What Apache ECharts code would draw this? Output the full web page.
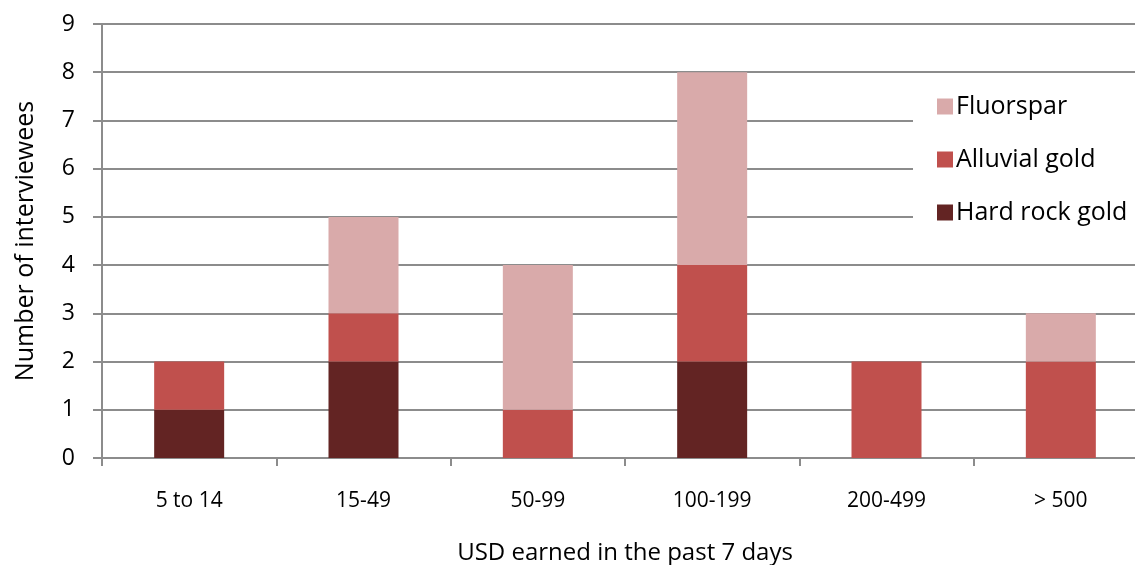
<!DOCTYPE html>
<html><head><meta charset="utf-8">
<script src="https://cdn.jsdelivr.net/npm/echarts@6/dist/echarts.min.js"></script>
<style>html,body{margin:0;padding:0;background:#fff}#c{width:1135px;height:565px}</style>
</head><body><div id="c"></div>
<script>
const categories = ['5 to 14','15-49','50-99','100-199','200-499','> 500'];
const hardRockGold = [1,2,0,2,0,0];
const alluvialGold = [1,1,1,2,2,2];
const fluorspar = [0,2,3,4,0,1];
const yTicks = [0,1,2,3,4,5,6,7,8,9];

const font = '"Open Sans", "Noto Sans", sans-serif';
const chart = echarts.init(document.getElementById('c'), null, {renderer:'canvas'});
const grey = '#8c8c8c';
chart.setOption({
  animation:false,
  backgroundColor:'#fff',
  textStyle:{fontFamily:font},
  grid:{left:102, top:24, width:1046, height:434, containLabel:false, outerBoundsMode:'none'},
  legend:{
    data:['Fluorspar','Alluvial gold','Hard rock gold'],
    orient:'vertical', left:913, top:84,
    itemWidth:16, itemHeight:16, itemGap:28,
    backgroundColor:'#fff', padding:[10,30,10,24],
    icon:'rect',
    textStyle:{fontSize:25, color:'#000', fontFamily:font, padding:[0,0,0,-2]}
  },
  xAxis:{
    type:'category', data:categories,
    axisLine:{lineStyle:{color:grey, width:2}},
    axisTick:{show:true, length:8, lineStyle:{color:grey, width:2}},
    axisLabel:{fontSize:21, color:'#000', margin:33, fontFamily:font},
    name:'USD earned in the past 7 days', nameLocation:'middle', nameGap:83,
    nameTextStyle:{fontSize:24, color:'#000', fontFamily:font}
  },
  yAxis:{
    type:'value', min:0, max:9, interval:1,
    axisLine:{show:true, lineStyle:{color:grey, width:2}},
    axisTick:{show:true, length:9, lineStyle:{color:grey, width:2}},
    axisLabel:{fontSize:23, color:'#000', margin:27, fontFamily:font},
    splitLine:{lineStyle:{color:grey, width:2}},
    name:'Number of interviewees', nameLocation:'middle', nameGap:64,
    nameTextStyle:{fontSize:25, color:'#000', fontFamily:font}
  },
  series:[
    {name:'Hard rock gold', type:'bar', stack:'s', data:hardRockGold, barWidth:70, itemStyle:{color:'#632423'}},
    {name:'Alluvial gold', type:'bar', stack:'s', data:alluvialGold, barWidth:70, itemStyle:{color:'#C0504D'}},
    {name:'Fluorspar', type:'bar', stack:'s', data:fluorspar, barWidth:70, itemStyle:{color:'#D9AAAA'}}
  ]
});
</script></body></html>
